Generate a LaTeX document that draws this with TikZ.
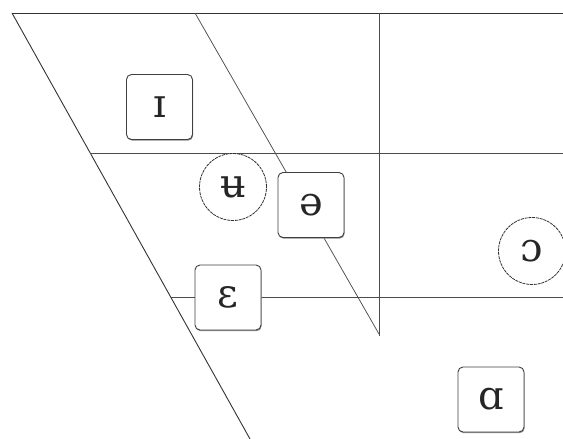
\documentclass[tikz,border=0pt]{standalone}
\usepackage{fontspec}
\setmainfont{DejaVu Serif}
\usetikzlibrary{shadows}
\begin{document}
\begin{tikzpicture}[x=1pt,y=-1pt,
  ln/.style={draw=black!70, line width=0.75pt},
  vfont/.style={font=\fontsize{40}{40}\selectfont, text=black!85},
  vbox/.style={vfont, draw=black!75, line width=0.9pt, fill=white, rounded corners=5pt,
    minimum width=66pt, minimum height=65pt, inner sep=0pt,
    drop shadow={shadow xshift=0.6pt, shadow yshift=-1.2pt, fill=black!45, opacity=1}},
  vcirc/.style={vfont, circle, draw=black!80, line width=0.8pt, dash pattern=on 3pt off 0.8pt,
    fill=white, minimum size=67pt, inner sep=0pt}]
\useasboundingbox (0,0) rectangle (563,439);
\coordinate (tl) at (12,13);
\coordinate (tr) at (563,13);
\coordinate (bl) at (250,439);
\coordinate (mt) at (195,13);
\coordinate (mb) at (379,334);
\coordinate (vt) at (379,13);
\coordinate (vb) at (379,336);
\coordinate (hal) at (90,153);
\coordinate (har) at (563,153);
\coordinate (hbl) at (171,297);
\coordinate (hbr) at (563,297);
\draw[ln, line width=1pt, draw=black!80] (tl) -- (tr);
\draw[ln, line width=0.9pt, draw=black!80] (tl) -- (bl);
\draw[ln] (mt) -- (mb);
\draw[ln] (vt) -- (vb);
\draw[ln] (hal) -- (har);
\draw[ln] (hbl) -- (hbr);
\node[vbox] (i) at (159.5,107) {ɪ};
\node[vcirc] (u) at (233,187) {ʉ};
\node[vbox] (schwa) at (311,205) {ə};
\node[vbox] (e) at (228,297.5) {ɛ};
\node[vcirc] (o) at (532,251) {ɔ};
\node[vbox] (a) at (491,399.5) {ɑ};
\end{tikzpicture}
\end{document}
